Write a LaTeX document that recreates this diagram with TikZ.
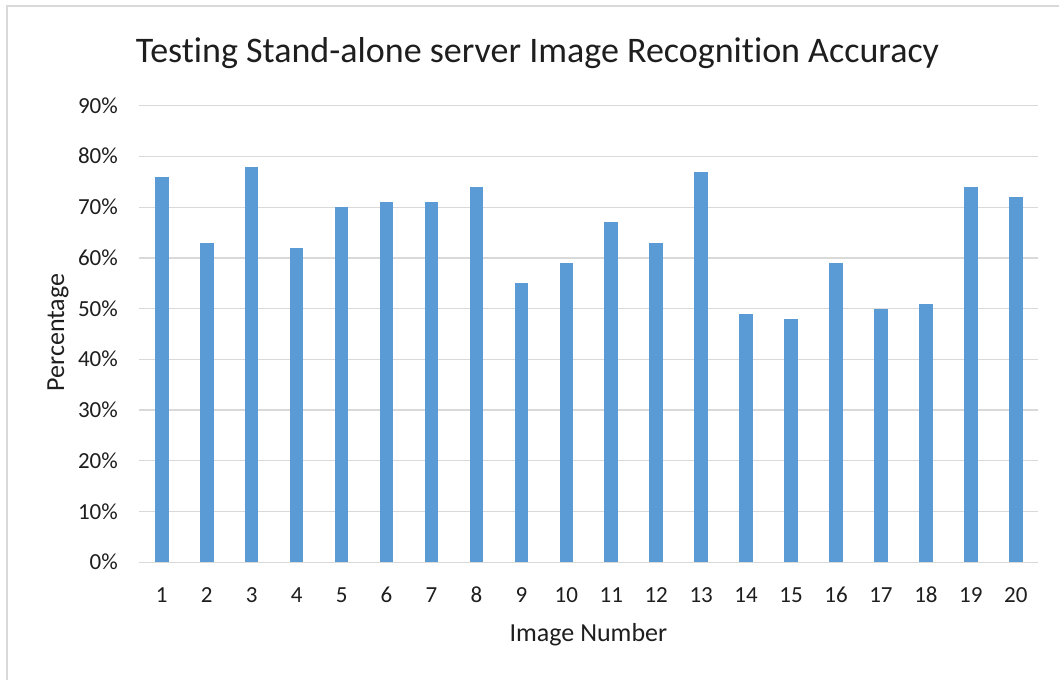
\documentclass[tikz,border=0pt]{standalone}
\usepackage{fontspec}
\setmainfont{Carlito}[Ligatures=NoCommon]
\definecolor{barblue}{HTML}{5B9BD5}
\definecolor{gridgray}{HTML}{D9D9D9}
\definecolor{txt}{HTML}{1E1E1E}
\begin{document}
\begin{tikzpicture}[x=1pt,y=-1pt,
  bar/.style={fill=barblue,draw=none},
  grid line/.style={draw=gridgray,line width=1.3pt},
  frame line/.style={draw=gridgray,line width=2pt},
  tick label/.style={text=txt,inner sep=0pt,font=\fontsize{23}{26}\selectfont},
  axis title/.style={text=txt,inner sep=0pt,font=\fontsize{26}{30}\selectfont},
  chart title/.style={text=txt,inner sep=0pt,font=\fontsize{36}{40}\selectfont}]
  % canvas
  \useasboundingbox[fill=white] (0,0) rectangle (1059,680);
  % outer chart frame (top and left edges visible)
  \draw[frame line] (7,680) -- (7,6) -- (1059,6);
  % plot geometry
  \def\xl{139.3}\def\xr{1038.3}\def\yz{562.3}\def\ys{50.73}\def\dx{44.95}
  % horizontal gridlines and y tick labels
  \foreach \k/\lab in {0/0,1/10,2/20,3/30,4/40,5/50,6/60,7/70,8/80,9/90}{
    \draw[grid line] (\xl,{\yz-\ys*\k}) -- (\xr,{\yz-\ys*\k});
    \node[tick label,anchor=base east] (yl\k) at (118,{\yz-\ys*\k+7.5}) {\lab\%};
  }
  % bars and category labels
  \foreach \v [count=\i] in {76,63,78,62,70,71,71,74,55,59,67,63,77,49,48,59,50,51,74,72}{
    \pgfmathsetmacro{\cx}{\xl+\dx*(\i-0.5)}
    \fill[bar] ({\cx-6.8},\yz) rectangle ({\cx+6.8},{\yz-\ys*\v/10});
    \node[tick label,anchor=base] (xl\i) at (\cx,602.7) {\i};
  }
  % titles
  \node[chart title,anchor=base] (title) at (537.5,62.7) {Testing Stand-alone server Image Recognition Accuracy};
  \node[axis title,anchor=base] (xtitle) at (588.4,641.7) {Image Number};
  \node[axis title,anchor=base,rotate=90] (ytitle) at (64,332.5) {Percentage};
\end{tikzpicture}
\end{document}
